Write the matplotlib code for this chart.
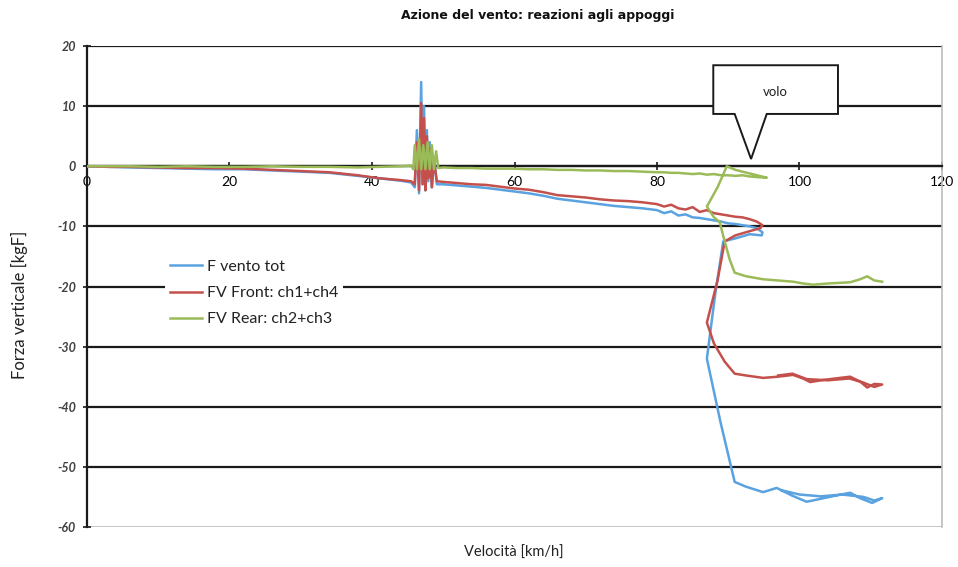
import matplotlib
matplotlib.use("Agg")
import matplotlib.pyplot as plt
from matplotlib.patches import Polygon

# ---------------- data ----------------
title = "Azione del vento: reazioni agli appoggi"
xlabel = "Velocità [km/h]"
ylabel = "Forza verticale [kgF]"
series_names = ["F vento tot", "FV Front: ch1+ch4", "FV Rear: ch2+ch3"]
x_ticks = [0, 20, 40, 60, 80, 100, 120]
y_ticks = [-60, -50, -40, -30, -20, -10, 0, 10, 20]

# F vento tot (blue)
tot_x = [0, 3, 6, 10, 14, 18, 22, 26, 30, 34, 38, 41, 44, 45.5,
         46.0, 46.3, 46.6, 46.9, 47.1, 47.3, 47.5, 47.7, 47.9, 48.1, 48.4, 48.7, 49.1,
         50, 52, 54, 56, 58, 60, 62, 64, 66, 68, 70, 72, 74, 76, 78, 80, 81, 82, 83, 84, 85,
         86, 87, 88, 89, 90, 91, 92, 93, 94, 94.8,
         94.7, 93, 91, 89.3, 88.2, 87.0, 88.9, 90.9, 92.5, 94.9, 96.8, 99, 101, 103, 105,
         107.1, 108.5, 110.2, 111.6, 110.5, 109, 106, 103, 100, 97.5]
tot_y = [0, -0.1, -0.2, -0.3, -0.4, -0.5, -0.5, -0.7, -0.9, -1.1, -1.6, -2.0, -2.4, -2.7,
         -3.5, 6, -4.5, 14, -3, 10, -4, 6, -2.5, 4, -3.5, 1.5, -3,
         -3.0, -3.2, -3.4, -3.6, -3.9, -4.2, -4.5, -4.9, -5.4, -5.7, -6.0, -6.3, -6.6, -6.8, -7.0,
         -7.3, -7.8, -7.5, -8.2, -8.0, -8.5,
         -8.6, -8.8, -9.0, -9.2, -9.5, -9.6, -9.8, -10.0, -10.3, -11.0,
         -11.5, -11.3, -12.0, -12.5, -21, -32, -42.5, -52.5, -53.3, -54.2, -53.5, -54.8, -55.8, -55.3, -54.8,
         -54.3, -55.2, -56.0, -55.2, -55.6, -55.0, -54.6, -54.9, -54.6, -53.9]

# FV Front (red)
front_x = [0, 3, 6, 10, 14, 18, 22, 26, 30, 34, 38, 41, 44, 45.5,
           46.0, 46.3, 46.6, 46.9, 47.1, 47.3, 47.5, 47.7, 47.9, 48.1, 48.4, 48.7, 49.1,
           50, 52, 54, 56, 58, 60, 62, 64, 66, 68, 70, 72, 74, 76, 78, 80, 81, 82, 83, 84, 85,
           86, 87, 88, 89, 90, 91, 92, 93, 94, 94.8,
           94.5, 93, 91, 89.5, 88.5, 87, 88, 89.5, 90.9, 92.5, 94.9, 97, 99.1, 100.5, 101.5,
           103, 105, 107.1, 108.5, 109.5, 110.5, 111.6, 110.5, 109, 107, 104, 101, 99, 97]
front_y = [0, -0.1, -0.1, -0.2, -0.3, -0.3, -0.4, -0.6, -0.8, -1.0, -1.5, -2.0, -2.3, -2.5,
           -3, 4, -4, 10.5, -3, 8, -4, 5, -2, 3, -3.5, 1, -2.5,
           -2.6, -2.8, -3.0, -3.1, -3.4, -3.7, -3.9, -4.3, -4.8, -5.0, -5.2, -5.5, -5.7, -5.8, -6.0,
           -6.3, -6.7, -6.4, -7.0, -7.2, -6.8,
           -7.6, -7.3, -7.8, -8.0, -8.2, -8.4, -8.5, -8.8, -9.2, -9.8,
           -10.3, -10.8, -11.5, -12.5, -19, -26, -29.5, -32.5, -34.5, -34.8, -35.2, -35.0, -34.7, -35.3, -35.9,
           -35.6, -35.3, -35.0, -35.8, -36.8, -36.2, -36.3, -36.7, -36.0, -35.3, -35.6, -35.4, -34.5, -34.8]

# FV Rear (green)
rear_x = [0, 3, 6, 10, 14, 18, 22, 26, 30, 34, 38, 41, 44, 45.5,
          45.8, 46.0, 46.3, 46.6, 46.9, 47.2, 47.5, 47.8, 48.1, 48.4, 48.7, 49.0, 49.3,
          50, 52, 54, 56, 58, 60, 62, 64, 66, 68, 70, 72, 74, 76, 78, 80, 81, 82, 83, 84, 85,
          86, 87, 88, 89, 90, 91, 92, 93, 94, 95.4,
          93, 91, 89.8, 88.5, 87.0, 88.0, 88.8, 89.5, 90.2, 90.9, 92.5, 94.9, 97, 99.1, 100.5,
          101.9, 104, 107.1, 108.5, 109.5, 110.5, 111.6]
rear_y = [0, 0, 0, -0.1, 0, -0.1, -0.1, 0, -0.1, -0.1, -0.2, -0.1, 0, 0.1,
          -0.5, 3.5, -0.5, 4.5, -0.5, 3.5, -0.5, 4, -0.5, 3.5, -0.5, 2.5, -0.3,
          -0.2, -0.3, -0.3, -0.4, -0.4, -0.4, -0.5, -0.5, -0.6, -0.6, -0.7, -0.7, -0.8, -0.8, -0.9,
          -1.0, -1.0, -1.1, -1.1, -1.2, -1.3,
          -1.2, -1.4, -1.3, -1.5, -1.5, -1.6, -1.5, -1.7, -1.8, -1.9,
          -1.2, -0.6, 0.0, -3.5, -6.7, -8.5, -9.3, -12.5, -15.5, -17.7, -18.3, -18.8, -19.0, -19.2, -19.5,
          -19.7, -19.5, -19.3, -18.8, -18.3, -19.0, -19.2]

callout_text = "volo"

# ---------------- style ----------------
FONT = "Lato"
plt.rcParams["font.family"] = [FONT, "DejaVu Sans"]
colors = ["#5AA2E0", "#C4504C", "#9BBB59"]
tick_color = "#404040"

fig = plt.figure(figsize=(9.58, 5.67), dpi=100)
ax = fig.add_axes([87 / 958, 40 / 567, (942 - 87) / 958, (527 - 46) / 567])

for xs, ys, c, name in zip([tot_x, front_x, rear_x], [tot_y, front_y, rear_y], colors, series_names):
    ax.plot(xs, ys, color=c, lw=1.8, label=name, solid_joinstyle="round", zorder=3)

ax.set_xlim(0, 120)
ax.set_ylim(-60, 20)
ax.set_xticks(x_ticks)
ax.set_yticks(y_ticks)
ax.set_xticklabels([str(v) for v in x_ticks], fontsize=9, fontweight="bold", style="italic", color=tick_color)
ax.set_yticklabels([str(v) for v in y_ticks], fontsize=9, fontweight="bold", style="italic", color=tick_color)

ax.yaxis.grid(True, color="#1a1a1a", lw=1.6, zorder=1)
ax.get_ygridlines()[0].set_color("#BBBBBB")
ax.get_ygridlines()[0].set_linewidth(1.2)
ax.set_axisbelow(True)

ax.spines["bottom"].set_position(("data", 0))
ax.spines["bottom"].set_color("#1a1a1a")
ax.spines["bottom"].set_linewidth(1.6)
ax.spines["left"].set_color("#1a1a1a")
ax.spines["left"].set_linewidth(1.6)
ax.spines["top"].set_visible(False)
ax.spines["right"].set_color("#BBBBBB")
ax.spines["right"].set_linewidth(1.2)

ax.tick_params(axis="x", direction="inout", length=6, width=1.2, color="#1a1a1a", pad=4)
ax.tick_params(axis="y", direction="inout", length=6, width=1.2, color="#1a1a1a", pad=5)

fig.text(538 / 958, 1 - 16 / 567, title, ha="center", va="center", fontsize=9,
         fontweight="bold", color="#111111", family=["DejaVu Sans"])
fig.text(514 / 958, 1 - 553 / 567, xlabel, ha="center", va="center", fontsize=10.5, color="#222222")
fig.text(19 / 958, 1 - 305 / 567, ylabel, ha="center", va="center", rotation=90, fontsize=12, color="#222222")

leg = ax.legend(loc="upper left", bbox_to_anchor=(0.082, 0.582), frameon=True, fontsize=11.5,
                handlelength=2.0, handletextpad=0.3, labelspacing=0.75, borderpad=0.3)
leg.get_frame().set_facecolor("white")
leg.get_frame().set_edgecolor("none")
leg.get_frame().set_alpha(1)
for t in leg.get_texts():
    t.set_color("#222222")

# callout "volo"
bx0, bx1, by0, by1 = 87.9, 105.4, 8.7, 16.8
px0, px1, tipx, tipy = 90.9, 95.4, 93.2, 1.2
callout = Polygon([(bx0, by0), (bx0, by1), (bx1, by1), (bx1, by0), (px1, by0), (tipx, tipy), (px0, by0)],
                  closed=True, facecolor="white", edgecolor="#1a1a1a", lw=1.4, zorder=5, clip_on=False)
ax.add_patch(callout)
ax.text((bx0 + bx1) / 2, 12.4, callout_text, ha="center", va="center", fontsize=9.5, zorder=6, color="#222222")

fig.savefig("out.png", dpi=100)
